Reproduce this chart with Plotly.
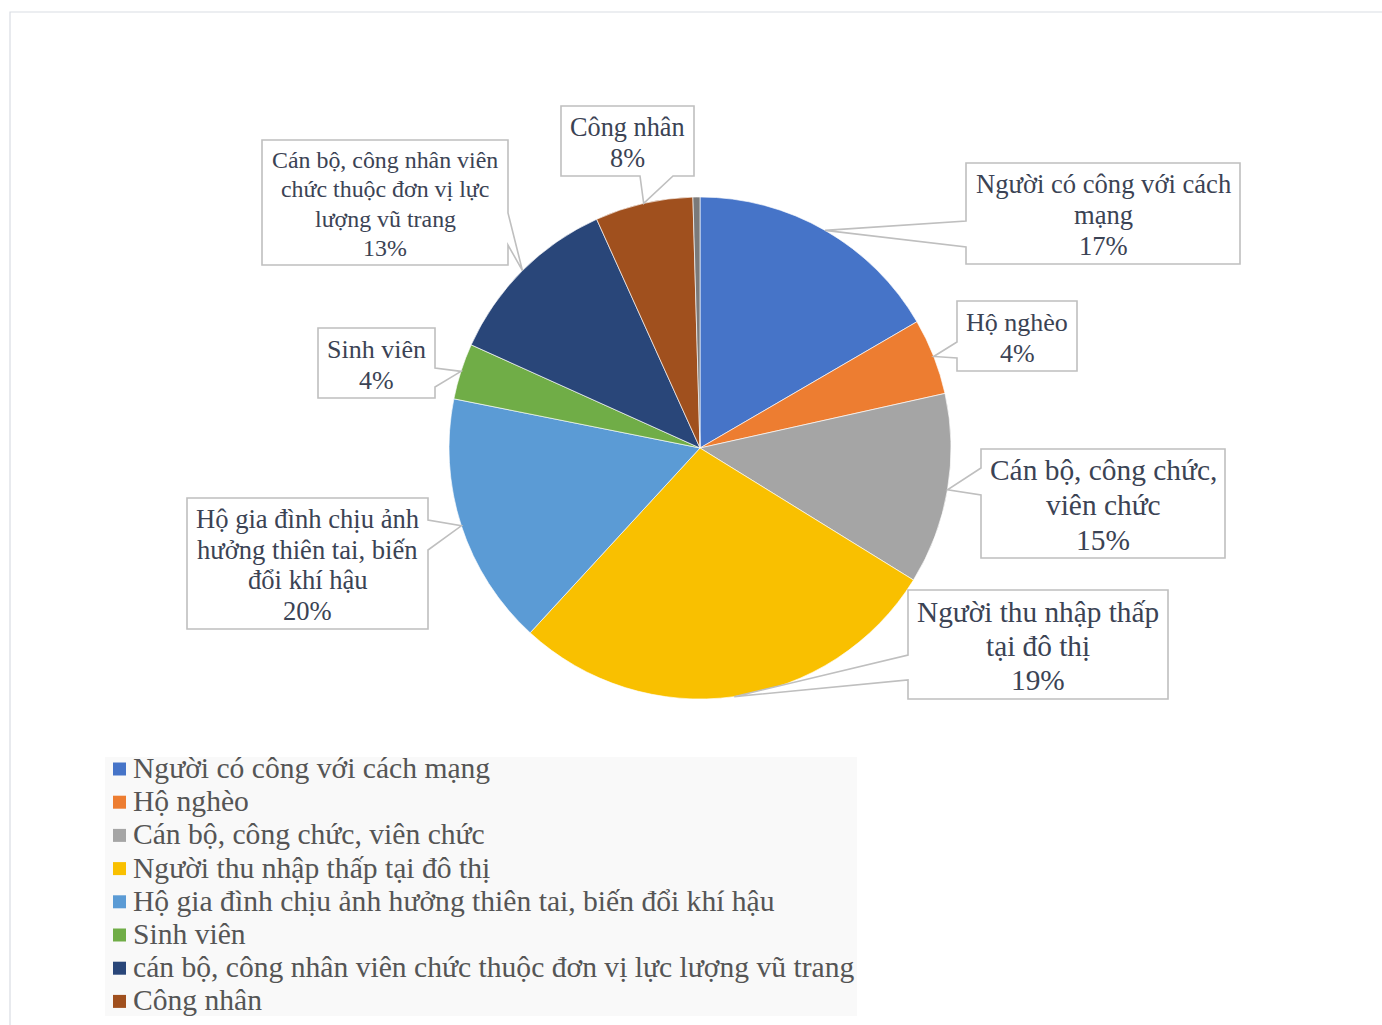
import math
import plotly.graph_objects as go

# ---------------- data ----------------
categories = [
    "Người có công với cách mạng",
    "Hộ nghèo",
    "Cán bộ, công chức, viên chức",
    "Người thu nhập thấp tại đô thị",
    "Hộ gia đình chịu ảnh hưởng thiên tai, biến đổi khí hậu",
    "Sinh viên",
    "cán bộ, công nhân viên chức thuộc đơn vị lực lượng vũ trang",
    "Công nhân",
]
other_label = "Khác"
slice_values = [16.6, 4.9, 12.3, 28.0, 16.3, 3.6, 11.5, 6.3]   # slice sizes
other_value = 0.45
label_percents = [17, 4, 15, 19, 20, 4, 13, 8]                # percentages printed in the callouts
label_lines = [
    ["Người có công với cách", "mạng"],
    ["Hộ nghèo"],
    ["Cán bộ, công chức,", "viên chức"],
    ["Người thu nhập thấp", "tại đô thị"],
    ["Hộ gia đình chịu ảnh", "hưởng thiên tai, biến", "đổi khí hậu"],
    ["Sinh viên"],
    ["Cán bộ, công nhân viên", "chức thuộc đơn vị lực", "lượng vũ trang"],
    ["Công nhân"],
]
colors = ["#4674C8", "#ED7D31", "#A5A5A5", "#F9C000", "#5B9BD5",
          "#70AD47", "#294679", "#A0501E"]
other_color = "#7A7A7A"

# ---------------- layout constants (pixels) ----------------
W, H = 1382, 1025
CX, CY, R = 700, 448, 251
SERIF = "Liberation Serif, Times New Roman, serif"
TEXT_COLOR = "#3B4354"
BOX_LINE = "#BFBFBF"

# callout boxes: (x0, y0, x1, y1, side, base1, base2, font size, line spacing)
callouts = [
    (966, 163, 1240, 264, "left", 221, 247, 26.6, 30.5),
    (957, 301, 1077, 371, "left", 342, 358, 26, 31),
    (981, 449, 1225, 558, "left", 468, 495, 29.4, 34.5),
    (908, 590, 1168, 699, "left", 655, 680, 29.3, 34),
    (187, 498, 428, 629, "right", 520, 550, 26.6, 30.7),
    (318, 328, 435, 398, "right", 368, 387, 26, 31),
    (262, 140, 508, 265, "right", 213, 245, 23.9, 29.3),
    (561, 106, 694, 176, "bottom", 640, 673, 26.3, 31),
]


def fx(x):
    return x / W


def fy(y):
    return 1 - y / H


all_labels = categories + [other_label]
all_values = slice_values + [other_value]
all_colors = colors + [other_color]

fig = go.Figure()
fig.add_trace(go.Pie(
    labels=all_labels,
    values=all_values,
    marker=dict(colors=all_colors, line=dict(color="rgba(255,255,255,0.8)", width=0.8)),
    sort=False,
    direction="clockwise",
    rotation=0,
    textinfo="none",
    hovertemplate="%{label}: %{percent}<extra></extra>",
    showlegend=False,
    domain=dict(x=[fx(CX - R), fx(CX + R)], y=[fy(CY + R), fy(CY - R)]),
))

shapes = []
annotations = []

# outer chart border
shapes.append(dict(type="rect", xref="paper", yref="paper",
                   x0=fx(10), y0=fy(1040), x1=fx(1395), y1=fy(12),
                   line=dict(color="#D9DDE3", width=1.2), fillcolor="rgba(0,0,0,0)",
                   layer="below"))

# callouts with pointer to the middle of each slice
total = sum(all_values)
cum = 0.0
for i, v in enumerate(slice_values):
    mid = (cum + v / 2) / total * 2 * math.pi
    cum += v
    tx = CX + R * math.sin(mid)
    ty = CY - R * math.cos(mid)
    x0, y0, x1, y1, side, b1, b2, fs, sp = callouts[i]
    if side == "left":
        pts = [(x0, y0), (x1, y0), (x1, y1), (x0, y1), (x0, b2), (tx, ty), (x0, b1)]
    elif side == "right":
        pts = [(x0, y0), (x1, y0), (x1, b1), (tx, ty), (x1, b2), (x1, y1), (x0, y1)]
    else:
        pts = [(x0, y0), (x1, y0), (x1, y1), (b2, y1), (tx, ty), (b1, y1), (x0, y1)]
    path = "M " + " L ".join(f"{fx(px):.5f},{fy(py):.5f}" for px, py in pts) + " Z"
    shapes.append(dict(type="path", xref="paper", yref="paper", path=path,
                       fillcolor="white", line=dict(color=BOX_LINE, width=1.6),
                       layer="above"))
    lines = label_lines[i] + [f"{label_percents[i]}%"]
    n = len(lines)
    cyb = (y0 + y1) / 2 + 1.5
    for k, t in enumerate(lines):
        ly = cyb + (k - (n - 1) / 2) * sp
        annotations.append(dict(x=fx((x0 + x1) / 2), y=fy(ly), xref="paper", yref="paper",
                                text=t, showarrow=False, xanchor="center", yanchor="middle",
                                font=dict(family=SERIF, size=fs, color=TEXT_COLOR)))

# legend (bottom-left)
LEG_X0, LEG_Y0, LEG_X1, LEG_Y1 = 105, 757, 857, 1016
shapes.append(dict(type="rect", xref="paper", yref="paper",
                   x0=fx(LEG_X0), y0=fy(LEG_Y1), x1=fx(LEG_X1), y1=fy(LEG_Y0),
                   line=dict(width=0), fillcolor="#F9F9F9", layer="below"))
for i, name in enumerate(categories):
    yc = 768 + i * 33.2
    shapes.append(dict(type="rect", xref="paper", yref="paper",
                       x0=fx(113), x1=fx(126), y0=fy(yc + 7.5), y1=fy(yc - 5.5),
                       line=dict(width=0), fillcolor=colors[i], layer="above"))
    annotations.append(dict(x=fx(131), y=fy(yc), xref="paper", yref="paper",
                            text=name, showarrow=False, xanchor="left", yanchor="middle",
                            font=dict(family=SERIF, size=29.6, color="#555555")))

fig.update_layout(
    width=W, height=H,
    margin=dict(l=0, r=0, t=0, b=0),
    paper_bgcolor="white",
    plot_bgcolor="white",
    shapes=shapes,
    annotations=annotations,
    showlegend=False,
)

fig.write_html("out.html")
